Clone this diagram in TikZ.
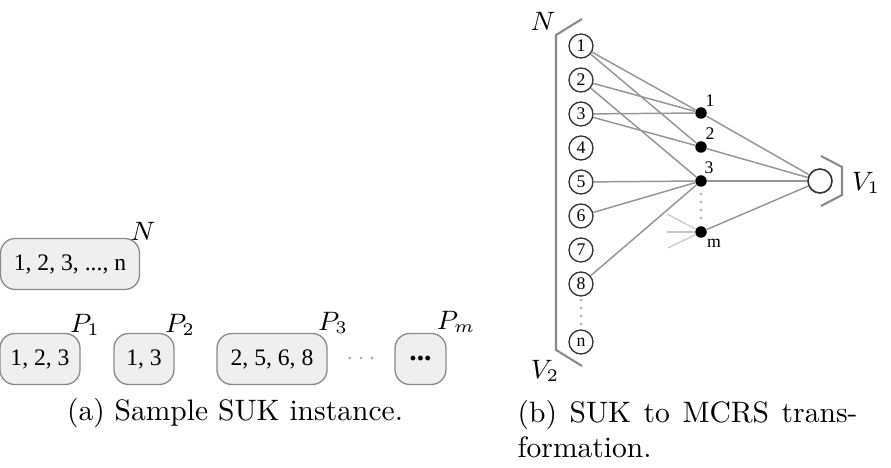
\documentclass[tikz,border=0pt]{standalone}
\usepackage{fontspec}
\newfontfamily\timesf{Liberation Serif}
\newcommand\upx{0.3383pt}
\definecolor{boxfill}{HTML}{EFEFEF}
\definecolor{boxline}{HTML}{8A8A8A}
\definecolor{edgec}{HTML}{969696}
\tikzset{
  setbox/.style={draw=boxline, fill=boxfill, line width=0.45pt, rounded corners=5pt,
    minimum height=51*\upx, inner sep=0pt, font=\timesf\fontsize{8}{9}\selectfont},
  lab/.style={inner sep=0pt, font=\fontsize{9}{11}\selectfont},
  elem/.style={circle, draw=black!80, line width=0.45pt, minimum size=24*\upx, inner sep=0pt,
    font=\timesf\fontsize{6}{7}\selectfont},
  sdot/.style={circle, fill=black, minimum size=11.5*\upx, inner sep=0pt},
  dlab/.style={inner sep=0pt, font=\timesf\fontsize{6}{7}\selectfont},
  edge/.style={draw=edgec, line width=0.5pt},
  faint/.style={draw=black!22, line width=0.4pt},
  brack/.style={draw=boxline, line width=0.7pt},
  vdots/.style={draw=black!28, line width=1.1pt, line cap=round, dash pattern=on 0pt off 2.7pt},
  capt/.style={inner sep=0pt, font=\fontsize{10}{12}\selectfont},
}
\begin{document}
\begin{tikzpicture}[x=0.3383pt, y=-0.3383pt]
\useasboundingbox (0,0) rectangle (891,468);
% ---------- (a) ----------
\node[setbox, minimum width=139*\upx] (bN) at (70,264) {1, 2, 3, ..., n};
\node[lab] (lN) at (143,231) {$N$};
\node[setbox, minimum width=80*\upx] (b1) at (40,359) {1, 2, 3};
\node[setbox, minimum width=60*\upx] (b2) at (144,359) {1, 3};
\node[setbox, minimum width=110*\upx] (b3) at (272,359) {2, 5, 6, 8};
\node[inner sep=0pt, text=black!35, font=\fontsize{8}{9}\selectfont] (gd) at (361,359) {$\cdots$};
\node[setbox, minimum width=51*\upx, font=\timesf\bfseries\fontsize{10}{11}\selectfont] (b4) at (420.5,359) {...};
\node[lab] (lP1) at (85,325) {$P_1$};
\node[lab] (lP2) at (180,325) {$P_2$};
\node[lab] (lP3) at (333,323) {$P_3$};
\node[lab] (lPm) at (456,322) {$P_m$};
\node[capt, anchor=base] (capa) at (235,421) {(a) Sample SUK instance.};
% ---------- (b) ----------
\foreach \i/\yy in {1/46,2/80,3/114,4/148,5/182,6/216,7/250,8/284,n/342}
  \node[elem] (c\i) at (581,\yy) {\i};
\node[sdot] (d1) at (701,113) {};
\node[sdot] (d2) at (701,147) {};
\node[sdot] (d3) at (701,181) {};
\node[sdot] (dm) at (701,232) {};
\node[dlab] (ld1) at (710,101) {1};
\node[dlab] (ld2) at (710,134) {2};
\node[dlab] (ld3) at (709,168) {3};
\node[dlab] (ldm) at (714,243) {m};
\node[elem, line width=0.55pt] (v1) at (820,181) {};
% edges
\draw[edge] (c1) -- (d1);
\draw[edge] (c1) -- (d2);
\draw[edge] (c2) -- (d1);
\draw[edge] (c2) -- (d3);
\draw[edge] (c3) -- (d1);
\draw[edge] (c3) -- (d2);
\draw[edge] (c5) -- (d3);
\draw[edge] (c6) -- (d3);
\draw[edge] (c8) -- (d3);
\draw[edge] (d1) -- (v1);
\draw[edge] (d2) -- (v1);
\draw[edge] (d3) -- (v1);
\draw[edge] (dm) -- (v1);
\coordinate (f1) at (667,214);
\coordinate (f2) at (667,232);
\coordinate (f3) at (668,248);
\draw[faint] (f1) -- (dm);
\draw[faint] (f2) -- (dm);
\draw[faint] (f3) -- (dm);
% dotted continuations
\coordinate (g1) at (701,194);
\coordinate (g2) at (701,219);
\draw[vdots] (g1) -- (g2);
\coordinate (h1) at (581,300);
\coordinate (h2) at (581,326);
\draw[vdots] (h1) -- (h2);
% brackets
\coordinate (bA) at (582,19);
\coordinate (bB) at (556,35);
\coordinate (bC) at (556,350);
\coordinate (bD) at (582,366);
\draw[brack] (bA) -- (bB) -- (bC) -- (bD);
\coordinate (kA) at (821,156);
\coordinate (kB) at (842,167);
\coordinate (kC) at (842,195);
\coordinate (kD) at (821,206);
\draw[brack] (kA) -- (kB) -- (kC) -- (kD);
\node[lab] (lN2) at (543,21) {$N$};
\node[lab] (lV1) at (866,183) {$V_1$};
\node[lab] (lV2) at (545,371) {$V_2$};
\node[capt, anchor=base west] (capb1) at (517,423) {\makebox[115pt][s]{(b) SUK to MCRS trans-}};
\node[capt, anchor=base west] (capb2) at (517,458) {formation.};
\end{tikzpicture}
\end{document}
